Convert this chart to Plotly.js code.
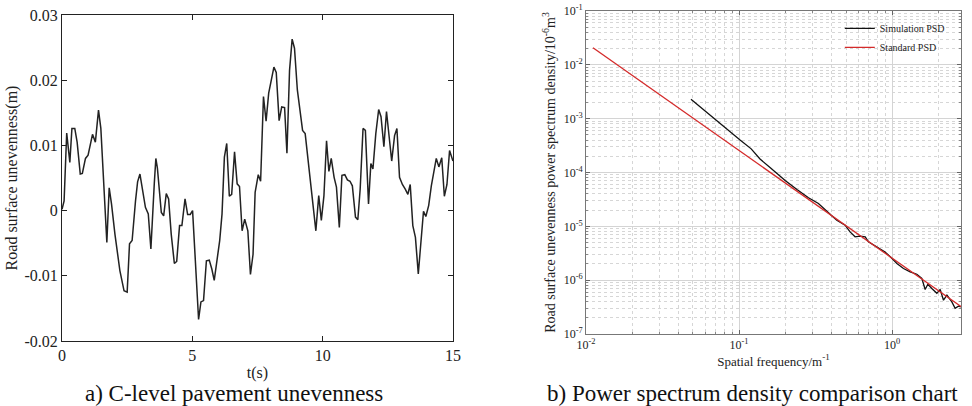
<!DOCTYPE html>
<html>
<head>
<meta charset="utf-8">
<script src="https://cdn.plot.ly/plotly-3.0.1.min.js"></script>
<style>html,body{margin:0;padding:0;background:#fff;}#chart{width:972px;height:406px;}</style>
</head>
<body>
<div id="chart"></div>
<script>
// Panel a) time series of road surface unevenness
const timeS = [0,0.08,0.18,0.3,0.38,0.49,0.58,0.7,0.78,0.9,1.0,1.17,1.28,1.4,1.49,1.72,1.81,1.9,2.03,2.22,2.38,2.5,2.59,2.69,2.82,2.9,2.99,3.12,3.2,3.31,3.41,3.54,3.6,3.66,3.81,3.9,4.0,4.09,4.19,4.31,4.4,4.51,4.6,4.72,4.82,4.92,5.01,5.24,5.33,5.43,5.54,5.65,5.75,5.84,5.93,6.05,6.14,6.23,6.32,6.42,6.51,6.62,6.72,6.81,6.91,7.01,7.13,7.23,7.33,7.41,7.53,7.62,7.73,7.83,7.93,8.04,8.13,8.22,8.33,8.43,8.54,8.63,8.73,8.83,8.92,9.03,9.14,9.23,9.33,9.44,9.55,9.64,9.74,9.85,9.95,10.05,10.15,10.24,10.33,10.44,10.53,10.64,10.74,10.85,10.95,11.05,11.14,11.26,11.35,11.44,11.55,11.64,11.76,11.85,11.93,12.04,12.15,12.24,12.35,12.45,12.55,12.65,12.76,12.85,12.95,13.06,13.17,13.27,13.36,13.46,13.56,13.67,13.77,13.87,13.96,14.07,14.17,14.27,14.36,14.46,14.57,14.67,14.77,14.87,14.96,15.0];
const unevenness = [0.0002,0.0015,0.0119,0.0074,0.0126,0.0126,0.0105,0.0056,0.0057,0.008,0.0085,0.0117,0.0105,0.0154,0.0126,-0.0049,0.0035,0.001,-0.0036,-0.0092,-0.0123,-0.0125,-0.0051,-0.0046,0.0015,0.0044,0.0056,0.0023,0.0005,-0.0005,-0.0059,0.0041,0.008,0.0065,-0.0003,-0.0008,0.0026,0.0018,-0.0036,-0.0081,-0.0078,-0.0023,-0.0023,0.0018,-0.0006,-0.0006,0.0,-0.0167,-0.014,-0.0138,-0.0077,-0.0076,-0.009,-0.0107,-0.008,-0.0046,-0.0005,0.0082,0.0103,0.0022,0.0025,0.009,0.0041,0.0037,-0.0031,-0.0013,-0.0031,-0.0098,-0.0067,0.0028,0.0055,0.0045,0.0175,0.0137,0.018,0.02,0.022,0.0212,0.0138,0.0159,0.0158,0.0088,0.0215,0.0263,0.0249,0.0185,0.0146,0.0123,0.0118,0.0077,0.0031,0.0008,-0.0031,0.0023,-0.0015,0.0023,0.0107,0.006,0.008,0.0051,0.0036,-0.0026,0.0054,0.0055,0.0047,0.0045,0.0038,-0.001,-0.0014,0.0033,0.0126,0.0123,0.001,0.0072,0.0064,0.0118,0.0155,0.0144,0.0098,0.0152,0.0108,0.0076,0.0115,0.0126,0.0051,0.004,0.0033,0.0025,0.004,-0.0023,-0.0041,-0.0097,-0.0049,-0.0001,-0.0009,0.0008,0.0038,0.0059,0.008,0.0067,0.0081,0.0022,0.004,0.0092,0.008,0.0076];
const leftXTicks = [0,5,10,15];
const leftYTicks = [-0.02,-0.01,0,0.01,0.02,0.03];
const leftYTickText = ['-0.02','-0.01','0','0.01','0.02','0.03'];

// Panel b) PSD comparison
const simFreq = [0.0485,0.06,0.08,0.1015,0.12,0.137,0.16,0.2,0.24,0.284,0.33,0.365,0.40,0.435,0.493,0.531,0.573,0.618,0.667,0.700,0.755,0.813,0.899,0.995,1.074,1.186,1.312,1.449,1.563,1.643,1.711,1.817,1.959,2.06,2.165,2.28,2.455,2.58,2.71,2.81];
const simPSD = [2.29e-3,1.38e-3,6.9e-4,4.0e-4,2.75e-4,1.78e-4,1.22e-4,7.1e-5,4.8e-5,3.4e-5,2.65e-5,2.0e-5,1.6e-5,1.3e-5,1.05e-5,7.9e-6,6.4e-6,6.6e-6,6.4e-6,5.15e-6,4.5e-6,3.9e-6,3.35e-6,2.55e-6,2.05e-6,1.65e-6,1.43e-6,1.29e-6,1.08e-6,6.7e-7,8.4e-7,7.0e-7,5.7e-7,6.7e-7,4.25e-7,5.3e-7,3.95e-7,3.0e-7,3.3e-7,3.2e-7];
const stdFreq = [0.0111, 2.83];
const stdPSD = [0.0208, 3.2e-7];
const rightXTicks = [0.01,0.1,1];
const rightXTickText = ['10<sup>-2</sup>','10<sup>-1</sup>','10<sup>0</sup>'];
const rightYTicks = [1e-7,1e-6,1e-5,1e-4,1e-3,1e-2,1e-1];
const rightYTickText = ['10<sup>-7</sup>','10<sup>-6</sup>','10<sup>-5</sup>','10<sup>-4</sup>','10<sup>-3</sup>','10<sup>-2</sup>','10<sup>-1</sup>'];

const serif = 'Liberation Serif, Times New Roman, serif';

const traces = [
  {x: timeS, y: unevenness, type: 'scatter', mode: 'lines', xaxis: 'x', yaxis: 'y',
   line: {color: '#222', width: 1.5}, showlegend: false},
  {x: simFreq, y: simPSD, type: 'scatter', mode: 'lines', xaxis: 'x2', yaxis: 'y2',
   name: 'Simulation PSD', line: {color: '#111', width: 1.3}},
  {x: stdFreq, y: stdPSD, type: 'scatter', mode: 'lines', xaxis: 'x2', yaxis: 'y2',
   name: 'Standard PSD', line: {color: '#d42a2a', width: 1.3}}
];

const layout = {
  width: 972, height: 406,
  margin: {l: 0, r: 0, t: 0, b: 0},
  paper_bgcolor: '#fff', plot_bgcolor: '#fff',
  font: {family: serif, color: '#222'},
  showlegend: true,
  legend: {x: 0.864, y: 0.966, xanchor: 'left', yanchor: 'top', bgcolor: 'rgba(0,0,0,0)',
           font: {family: serif, size: 10, color: '#222'}, tracegroupgap: 0},
  xaxis: {domain: [0.0638, 0.4660], range: [0, 15], tickvals: leftXTicks,
          ticks: 'inside', ticklen: 5, tickcolor: '#222', showline: true, linecolor: '#222', linewidth: 1,
          mirror: 'ticks', showgrid: false, zeroline: false,
          tickfont: {family: serif, size: 16, color: '#222'},
          title: {text: 't(s)', font: {family: serif, size: 16, color: '#222'}, standoff: 3}},
  yaxis: {domain: [0.1601, 0.9631], range: [-0.02, 0.03], tickvals: leftYTicks, ticktext: leftYTickText,
          ticks: 'inside', ticklen: 5, tickcolor: '#222', showline: true, linecolor: '#222', linewidth: 1,
          mirror: 'ticks', showgrid: false, zeroline: false,
          tickfont: {family: serif, size: 16, color: '#222'},
          title: {text: 'Road surface unevenness(m)', font: {family: serif, size: 16, color: '#222'}, standoff: 2}},
  xaxis2: {domain: [0.6029, 0.9887], type: 'log', range: [-2, 0.45], anchor: 'y2',
           tickvals: rightXTicks, ticktext: rightXTickText,
           ticks: 'inside', ticklen: 4, tickcolor: '#666', showline: true, linecolor: '#777', linewidth: 1,
           mirror: 'ticks', showgrid: true, gridcolor: '#d4d4d4', gridwidth: 1, zeroline: false,
           minor: {dtick: 'D1', showgrid: true, gridcolor: '#d6d6d6', griddash: 'dot', ticks: 'inside', ticklen: 2, tickcolor: '#888'},
           tickfont: {family: serif, size: 12, color: '#222'},
           title: {text: 'Spatial frequency/m<sup>-1</sup>', font: {family: serif, size: 13, color: '#222'}, standoff: 2}},
  yaxis2: {domain: [0.1773, 0.9729], type: 'log', range: [-7, -1], anchor: 'x2',
           tickvals: rightYTicks, ticktext: rightYTickText,
           ticks: 'inside', ticklen: 4, tickcolor: '#666', showline: true, linecolor: '#777', linewidth: 1,
           mirror: 'ticks', showgrid: true, gridcolor: '#d4d4d4', gridwidth: 1, zeroline: false,
           minor: {dtick: 'D1', showgrid: true, gridcolor: '#d6d6d6', griddash: 'dot', ticks: 'inside', ticklen: 2, tickcolor: '#888'},
           tickfont: {family: serif, size: 12, color: '#222'},
           title: {text: 'Road surface unevenness power spectrum density/10<sup>-6</sup>m<sup>3</sup>', font: {family: serif, size: 14, color: '#222'}, standoff: 4}},
  annotations: [
    {text: 'a) C-level pavement unevenness', xref: 'paper', yref: 'paper', x: 234/972, y: 1 - 393/406,
     xanchor: 'center', yanchor: 'middle', showarrow: false, font: {family: serif, size: 23, color: '#111'}},
    {text: 'b) Power spectrum density comparison chart', xref: 'paper', yref: 'paper', x: 752/972, y: 1 - 393/406,
     xanchor: 'center', yanchor: 'middle', showarrow: false, font: {family: serif, size: 23, color: '#111'}}
  ]
};

Plotly.newPlot('chart', traces, layout, {displayModeBar: false, staticPlot: true});
</script>
</body>
</html>
